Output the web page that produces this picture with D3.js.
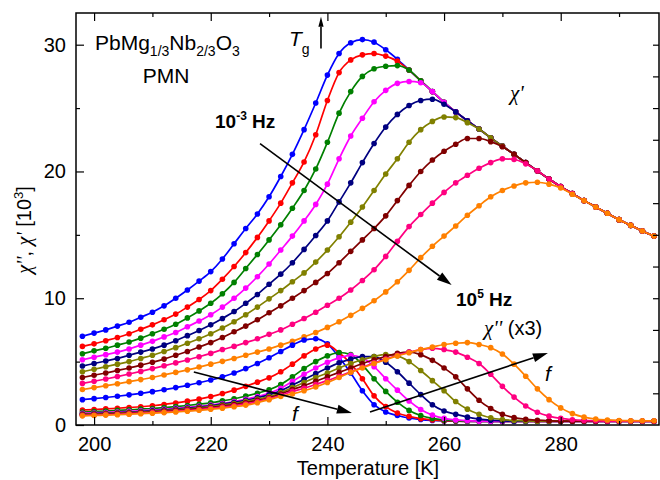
<!DOCTYPE html>
<html>
<head>
<meta charset="utf-8">
<script src="https://cdn.jsdelivr.net/npm/d3@7"></script>
<style>
body { margin: 0; background: #fff; }
text { font-family: "Liberation Sans", Arial, Helvetica, sans-serif; }
.gr { font-family: "Liberation Serif", "DejaVu Serif", serif; font-style: italic; }
</style>
</head>
<body>
<svg width="660" height="480"></svg>
<script>
// temperatures [K]
var temps = [198, 200, 202, 204, 206, 208, 210, 212, 214, 216, 218, 220, 222, 224, 226, 228, 230, 232, 234, 236,
             238, 240, 242, 244, 246, 248, 250, 252, 254, 256, 258, 260, 262, 264, 266, 268, 270, 272, 274, 276,
             278, 280, 282, 284, 286, 288, 290, 292, 294, 296];

var freqs = ["1e-3", "1e-2", "1e-1", "1e0", "1e1", "1e2", "1e3", "1e4", "1e5"];

// chi' [10^3], one array per frequency
var re_m3 = [7.0, 7.25, 7.5, 7.8, 8.1, 8.5, 8.9, 9.4, 10.0, 10.65, 11.35, 12.1, 13.1, 14.3, 15.5, 16.65, 18.0, 19.6, 21.35, 23.3,
             25.4, 27.6, 29.3, 30.15, 30.4, 30.2, 29.6, 28.85, 28.0, 27.15, 26.3, 25.45, 24.7, 24.0, 23.35, 22.65, 22.0, 21.35, 20.7, 20.05,
             19.4, 18.8, 18.25, 17.7, 17.2, 16.7, 16.2, 15.75, 15.3, 14.9];
var re_m2 = [6.2, 6.4, 6.65, 6.9, 7.2, 7.55, 7.9, 8.3, 8.75, 9.3, 9.9, 10.6, 11.5, 12.5, 13.6, 14.8, 16.1, 17.5, 19.1, 20.75,
             22.9, 25.6, 27.8, 28.8, 29.2, 29.3, 29.1, 28.7, 28.0, 27.15, 26.3, 25.45, 24.7, 24.0, 23.35, 22.65, 22.0, 21.35, 20.7, 20.05,
             19.4, 18.8, 18.25, 17.7, 17.2, 16.7, 16.2, 15.75, 15.3, 14.9];
var re_m1 = [5.62, 5.85, 6.05, 6.3, 6.55, 6.85, 7.2, 7.55, 7.95, 8.45, 9.0, 9.6, 10.35, 11.25, 12.35, 13.45, 14.6, 15.8, 17.1, 18.5,
             20.2, 22.3, 24.6, 26.3, 27.5, 28.1, 28.3, 28.35, 28.0, 27.15, 26.3, 25.45, 24.7, 24.0, 23.35, 22.65, 22.0, 21.35, 20.7, 20.05,
             19.4, 18.8, 18.25, 17.7, 17.2, 16.7, 16.2, 15.75, 15.3, 14.9];
var re_0  = [5.15, 5.35, 5.55, 5.75, 6.0, 6.3, 6.6, 6.95, 7.3, 7.75, 8.2, 8.7, 9.3, 10.0, 10.8, 11.7, 12.7, 13.8, 14.9, 16.1,
             17.4, 19.0, 21.0, 22.8, 24.2, 25.5, 26.4, 26.95, 27.1, 27.0, 26.3, 25.45, 24.7, 24.0, 23.35, 22.65, 22.0, 21.35, 20.7, 20.05,
             19.4, 18.8, 18.25, 17.7, 17.2, 16.7, 16.2, 15.75, 15.3, 14.9];
var re_1  = [4.65, 4.85, 5.05, 5.25, 5.5, 5.75, 6.0, 6.3, 6.65, 7.05, 7.45, 7.9, 8.4, 8.95, 9.6, 10.3, 11.1, 11.9, 12.8, 13.85,
             14.95, 16.1, 17.6, 19.1, 20.7, 22.2, 23.5, 24.5, 25.2, 25.6, 25.7, 25.3, 24.7, 24.0, 23.35, 22.65, 22.0, 21.35, 20.7, 20.05,
             19.4, 18.8, 18.25, 17.7, 17.2, 16.7, 16.2, 15.75, 15.3, 14.9];
var re_2  = [4.2, 4.4, 4.6, 4.8, 5.0, 5.25, 5.5, 5.8, 6.1, 6.45, 6.8, 7.2, 7.65, 8.15, 8.7, 9.3, 9.95, 10.6, 11.3, 12.0,
             12.85, 13.8, 14.85, 16.0, 17.2, 18.5, 19.8, 21.0, 22.3, 23.3, 23.95, 24.3, 24.25, 23.85, 23.35, 22.65, 22.0, 21.35, 20.7, 20.05,
             19.4, 18.8, 18.25, 17.7, 17.2, 16.7, 16.2, 15.75, 15.3, 14.9];
var re_3  = [3.75, 3.93, 4.1, 4.3, 4.5, 4.72, 4.95, 5.2, 5.5, 5.8, 6.15, 6.5, 6.9, 7.35, 7.8, 8.3, 8.85, 9.4, 10.0, 10.6,
             11.25, 11.95, 12.8, 13.7, 14.6, 15.5, 16.5, 17.7, 18.9, 20.0, 20.9, 21.6, 22.15, 22.6, 22.6, 22.35, 21.95, 21.35, 20.7, 20.05,
             19.4, 18.8, 18.25, 17.7, 17.2, 16.7, 16.2, 15.75, 15.3, 14.9];
var re_4  = [3.28, 3.45, 3.63, 3.82, 4.02, 4.23, 4.45, 4.67, 4.9, 5.13, 5.38, 5.65, 5.95, 6.2, 6.5, 6.8, 7.15, 7.5, 7.95, 8.4,
             8.9, 9.45, 10.0, 10.65, 11.4, 12.25, 13.3, 14.5, 15.65, 16.6, 17.5, 18.35, 19.1, 19.7, 20.25, 20.7, 21.0, 20.95, 20.6, 20.05,
             19.4, 18.8, 18.25, 17.7, 17.2, 16.7, 16.2, 15.75, 15.3, 14.9];
var re_5  = [2.8, 2.95, 3.1, 3.25, 3.42, 3.58, 3.75, 3.95, 4.15, 4.35, 4.57, 4.8, 5.02, 5.25, 5.5, 5.75, 6.0, 6.3, 6.6, 6.95,
             7.3, 7.7, 8.15, 8.65, 9.2, 9.8, 10.5, 11.3, 12.2, 13.2, 14.1, 14.9, 15.7, 16.55, 17.3, 18.0, 18.5, 18.85, 19.1, 19.15,
             19.0, 18.7, 18.2, 17.7, 17.2, 16.7, 16.2, 15.75, 15.3, 14.9];

// chi'' (x3) [10^3]
var im_m3 = [2.0, 2.08, 2.17, 2.27, 2.38, 2.5, 2.63, 2.78, 2.95, 3.13, 3.33, 3.55, 3.8, 4.1, 4.45, 4.85, 5.3, 5.8, 6.3, 6.7,
             6.8, 6.4, 5.35, 4.1, 2.7, 1.6, 1.02, 0.75, 0.55, 0.43, 0.36, 0.32, 0.3, 0.29, 0.29, 0.28, 0.28, 0.28, 0.28, 0.28,
             0.28, 0.28, 0.28, 0.28, 0.28, 0.28, 0.28, 0.28, 0.28, 0.28];
var im_m2 = [1.18, 1.22, 1.27, 1.32, 1.38, 1.44, 1.52, 1.62, 1.74, 1.88, 2.04, 2.24, 2.48, 2.75, 3.05, 3.38, 3.72, 4.2, 4.8, 5.45,
             6.0, 6.3, 5.7, 4.85, 3.65, 2.3, 1.45, 0.95, 0.68, 0.5, 0.4, 0.34, 0.31, 0.29, 0.29, 0.29, 0.29, 0.29, 0.29, 0.29,
             0.29, 0.29, 0.29, 0.29, 0.29, 0.29, 0.29, 0.29, 0.29, 0.29];
var im_m1 = [1.02, 1.06, 1.1, 1.15, 1.2, 1.25, 1.3, 1.37, 1.45, 1.54, 1.64, 1.75, 1.9, 2.07, 2.28, 2.5, 2.78, 3.2, 3.8, 4.45,
             5.0, 5.45, 5.72, 5.55, 4.75, 3.65, 2.65, 1.8, 1.15, 0.75, 0.52, 0.4, 0.34, 0.3, 0.29, 0.29, 0.29, 0.29, 0.29, 0.29,
             0.29, 0.29, 0.29, 0.29, 0.29, 0.29, 0.29, 0.29, 0.29, 0.29];
var im_0  = [0.92, 0.95, 0.99, 1.03, 1.08, 1.13, 1.18, 1.24, 1.31, 1.39, 1.48, 1.58, 1.7, 1.85, 2.03, 2.25, 2.5, 2.9, 3.45, 4.0,
             4.5, 4.95, 5.3, 5.5, 5.3, 4.6, 3.65, 2.75, 1.9, 1.22, 0.78, 0.52, 0.4, 0.34, 0.3, 0.29, 0.29, 0.29, 0.29, 0.29,
             0.29, 0.29, 0.29, 0.29, 0.29, 0.29, 0.29, 0.29, 0.29, 0.29];
var im_1  = [0.87, 0.9, 0.93, 0.97, 1.01, 1.06, 1.12, 1.18, 1.25, 1.33, 1.42, 1.52, 1.64, 1.78, 1.95, 2.15, 2.38, 2.7, 3.15, 3.6,
             4.05, 4.5, 4.9, 5.2, 5.4, 5.4, 4.95, 4.2, 3.3, 2.4, 1.6, 1.1, 0.85, 0.62, 0.47, 0.38, 0.33, 0.3, 0.3, 0.3,
             0.3, 0.3, 0.3, 0.3, 0.3, 0.3, 0.3, 0.3, 0.3, 0.3];
var im_2  = [0.84, 0.87, 0.9, 0.94, 0.98, 1.02, 1.07, 1.13, 1.2, 1.27, 1.36, 1.46, 1.57, 1.7, 1.86, 2.04, 2.25, 2.55, 2.95, 3.35,
             3.75, 4.1, 4.5, 4.85, 5.15, 5.4, 5.55, 5.45, 5.0, 4.3, 3.5, 2.7, 1.85, 1.25, 0.85, 0.57, 0.43, 0.36, 0.32, 0.3,
             0.3, 0.3, 0.3, 0.3, 0.3, 0.3, 0.3, 0.3, 0.3, 0.3];
var im_3  = [0.8, 0.83, 0.86, 0.9, 0.94, 0.98, 1.03, 1.08, 1.14, 1.21, 1.29, 1.38, 1.49, 1.61, 1.76, 1.94, 2.15, 2.45, 2.8, 3.1,
             3.45, 3.8, 4.15, 4.5, 4.85, 5.15, 5.4, 5.65, 5.75, 5.55, 5.1, 4.5, 3.8, 2.85, 1.95, 1.3, 0.85, 0.58, 0.45, 0.38,
             0.33, 0.3, 0.3, 0.3, 0.3, 0.3, 0.3, 0.3, 0.3, 0.3];
var im_4  = [0.76, 0.79, 0.82, 0.85, 0.89, 0.93, 0.98, 1.03, 1.09, 1.15, 1.22, 1.31, 1.41, 1.52, 1.66, 1.85, 2.08, 2.35, 2.65, 2.9,
             3.2, 3.5, 3.85, 4.2, 4.55, 4.9, 5.2, 5.5, 5.75, 5.95, 6.05, 5.95, 5.75, 5.35, 4.85, 4.0, 3.05, 2.2, 1.5, 1.0,
             0.7, 0.52, 0.42, 0.36, 0.33, 0.31, 0.31, 0.31, 0.31, 0.31];
var im_5  = [0.72, 0.75, 0.78, 0.81, 0.85, 0.89, 0.93, 0.98, 1.03, 1.09, 1.16, 1.24, 1.33, 1.44, 1.57, 1.76, 2.0, 2.25, 2.45, 2.7,
             3.0, 3.35, 3.75, 4.15, 4.5, 4.85, 5.15, 5.45, 5.7, 5.95, 6.15, 6.35, 6.45, 6.5, 6.35, 6.1, 5.6, 4.8, 3.85, 2.85,
             2.0, 1.35, 0.9, 0.62, 0.47, 0.4, 0.36, 0.34, 0.33, 0.33];

var colors = ["#0000ff", "#ff0000", "#008000", "#ff00ff", "#000080", "#808000", "#800000", "#ff0080", "#ff8000"];

var xTicks = [200, 220, 240, 260, 280],
    xMinor = [210, 230, 250, 270, 290],
    yTicks = [0, 10, 20, 30],
    yMinor = [5, 15, 25],
    yRight = [2.5, 5, 7.5, 10, 12.5, 15, 17.5, 20, 22.5, 25, 27.5, 30];

function main() {
    var svg = d3.select("svg");
    var left = 76, right = 659, top = 13, bottom = 425;

    var x = d3.scaleLinear().domain([196.9, 296.85]).range([left, right]);
    var y = d3.scaleLinear().domain([0, 32.5]).range([bottom, top]);

    svg.append("defs").append("clipPath").attr("id", "clip")
       .append("rect")
       .attr("x", left).attr("y", top)
       .attr("width", right - left).attr("height", bottom - top);

    var reals = [re_m3, re_m2, re_m1, re_0, re_1, re_2, re_3, re_4, re_5];
    var imags = [im_m3, im_m2, im_m1, im_0, im_1, im_2, im_3, im_4, im_5];

    var line = d3.line()
                 .x(function(d) { return x(d[0]); })
                 .y(function(d) { return y(d[1]); })
                 .curve(d3.curveMonotoneX);

    var plot = svg.append("g").attr("clip-path", "url(#clip)");

    function drawSeries(vals, i, cls) {
        var pts = temps.map(function(t, k) { return [t, vals[k]]; });
        var g = plot.append("g").attr("class", cls + " f" + freqs[i]);
        g.append("path")
         .datum(pts)
         .attr("fill", "none")
         .attr("stroke", colors[i])
         .attr("stroke-width", 1.7)
         .attr("d", line);
        g.selectAll("circle")
         .data(pts)
         .enter().append("circle")
         .attr("cx", function(d) { return x(d[0]); })
         .attr("cy", function(d) { return y(d[1]); })
         .attr("r", 2.8)
         .attr("fill", colors[i]);
    }

    reals.forEach(function(v, i) { drawSeries(v, i, "real"); });
    imags.forEach(function(v, i) { drawSeries(v, i, "imag"); });

    // axes, ticks pointing inward on all four sides
    function styleAxis(g) {
        g.select(".domain").remove();
        g.selectAll("line").attr("stroke", "#000").attr("stroke-width", 1.2);
        g.attr("font-size", 20).attr("font-family", "Liberation Sans, Arial, sans-serif");
        g.selectAll("text").attr("fill", "#000");
    }

    svg.append("g").attr("transform", "translate(0," + bottom + ")")
       .call(d3.axisBottom(x).tickValues(xTicks).tickSizeInner(-8).tickSizeOuter(0).tickPadding(12).tickFormat(d3.format("d")))
       .call(styleAxis);
    svg.append("g").attr("transform", "translate(0," + bottom + ")")
       .call(d3.axisBottom(x).tickValues(xMinor).tickSizeInner(-4).tickSizeOuter(0).tickFormat(""))
       .call(styleAxis);
    svg.append("g").attr("transform", "translate(0," + top + ")")
       .call(d3.axisTop(x).tickValues(xTicks).tickSizeInner(-8).tickSizeOuter(0).tickFormat(""))
       .call(styleAxis);
    svg.append("g").attr("transform", "translate(0," + top + ")")
       .call(d3.axisTop(x).tickValues(xMinor).tickSizeInner(-4).tickSizeOuter(0).tickFormat(""))
       .call(styleAxis);
    svg.append("g").attr("transform", "translate(" + left + ",0)")
       .call(d3.axisLeft(y).tickValues(yTicks).tickSizeInner(-8).tickSizeOuter(0).tickPadding(10).tickFormat(d3.format("d")))
       .call(styleAxis);
    svg.append("g").attr("transform", "translate(" + left + ",0)")
       .call(d3.axisLeft(y).tickValues(yMinor).tickSizeInner(-4).tickSizeOuter(0).tickFormat(""))
       .call(styleAxis);
    svg.append("g").attr("transform", "translate(" + right + ",0)")
       .call(d3.axisRight(y).tickValues(yRight).tickSizeInner(-6).tickSizeOuter(0).tickFormat(""))
       .call(styleAxis);

    svg.append("rect")
       .attr("x", left).attr("y", top)
       .attr("width", right - left).attr("height", bottom - top)
       .attr("fill", "none").attr("stroke", "#000").attr("stroke-width", 1.5);

    // axis titles
    svg.append("text")
       .attr("x", 368).attr("y", 475)
       .attr("text-anchor", "middle").attr("font-size", 20)
       .text("Temperature [K]");

    var yl = svg.append("text")
       .attr("transform", "translate(31,230) rotate(-90)")
       .attr("text-anchor", "middle").attr("font-size", 20);
    yl.append("tspan").attr("class", "gr").text("\u03C7''");
    yl.append("tspan").text(", ");
    yl.append("tspan").attr("class", "gr").text("\u03C7'");
    yl.append("tspan").text(" [10");
    yl.append("tspan").attr("font-size", 13).attr("dy", -8).text("3");
    yl.append("tspan").attr("dy", 8).text("]");

    // formula
    var fm = svg.append("text").attr("x", 95).attr("y", 50).attr("font-size", 21);
    fm.append("tspan").text("PbMg");
    fm.append("tspan").attr("font-size", 14).attr("dy", 6).text("1/3");
    fm.append("tspan").attr("dy", -6).text("Nb");
    fm.append("tspan").attr("font-size", 14).attr("dy", 6).text("2/3");
    fm.append("tspan").attr("dy", -6).text("O");
    fm.append("tspan").attr("font-size", 14).attr("dy", 6).text("3");

    svg.append("text").attr("x", 166).attr("y", 83)
       .attr("text-anchor", "middle").attr("font-size", 21).text("PMN");

    // T_g marker
    var tg = svg.append("text").attr("x", 289).attr("y", 46).attr("font-size", 21);
    tg.append("tspan").attr("font-style", "italic").text("T");
    tg.append("tspan").attr("font-size", 14).attr("dy", 8).text("g");

    function arrow(t0, v0, t1, v1, head, wid) {
        var x0 = x(t0), y0 = y(v0), x1 = x(t1), y1 = y(v1);
        var a = Math.atan2(y1 - y0, x1 - x0);
        var bx = x1 - head * Math.cos(a), by = y1 - head * Math.sin(a);
        svg.append("line")
           .attr("x1", x0).attr("y1", y0).attr("x2", bx).attr("y2", by)
           .attr("stroke", "#000").attr("stroke-width", 1.6);
        var px = -Math.sin(a) * wid, py = Math.cos(a) * wid;
        svg.append("path")
           .attr("d", "M" + x1 + "," + y1 + "L" + (bx + px) + "," + (by + py) +
                      "L" + (bx - px) + "," + (by - py) + "Z")
           .attr("fill", "#000");
    }

    arrow(238.9, 29.7, 238.9, 32.2, 10, 2.6);
    arrow(228.45, 22.2, 261.3, 11.05, 15, 4.5);
    arrow(217.1, 4.18, 244.2, 0.95, 15, 4.5);
    arrow(247.3, 1.03, 277.8, 5.68, 15, 4.5);

    // frequency labels
    var lo = svg.append("text").attr("x", 215).attr("y", 128)
       .attr("font-size", 19).attr("font-weight", "bold");
    lo.append("tspan").text("10");
    lo.append("tspan").attr("font-size", 12).attr("dy", -8).text("-3");
    lo.append("tspan").attr("dy", 8).text(" Hz");

    var hi = svg.append("text").attr("x", 456).attr("y", 306)
       .attr("font-size", 19).attr("font-weight", "bold");
    hi.append("tspan").text("10");
    hi.append("tspan").attr("font-size", 12).attr("dy", -8).text("5");
    hi.append("tspan").attr("dy", 8).text(" Hz");

    svg.append("text").attr("class", "gr").attr("x", 510).attr("y", 100)
       .attr("font-size", 21).text("\u03C7'");

    var ci = svg.append("text").attr("x", 484).attr("y", 335).attr("font-size", 20);
    ci.append("tspan").attr("class", "gr").attr("font-size", 21).text("\u03C7''");
    ci.append("tspan").text(" (x3)");

    svg.append("text").attr("x", 292).attr("y", 421)
       .attr("font-size", 21).attr("font-style", "italic").text("f");
    svg.append("text").attr("x", 545).attr("y", 381)
       .attr("font-size", 21).attr("font-style", "italic").text("f");
}

main();
</script>
</body>
</html>
